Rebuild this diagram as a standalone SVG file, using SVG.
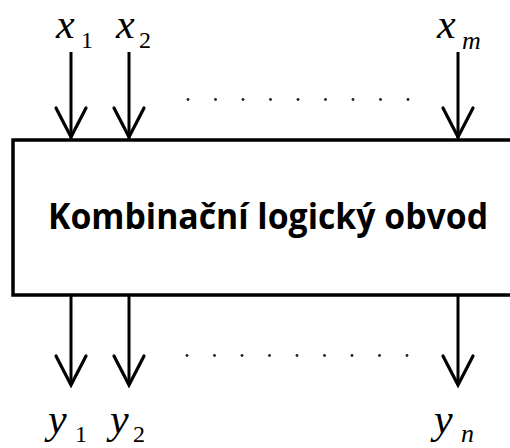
<svg xmlns="http://www.w3.org/2000/svg" width="510" height="448" viewBox="0 0 510 448">
  <defs>
    <style>
      .wire { fill: none; stroke: #000; stroke-width: 3; stroke-linecap: butt; }
      .head { fill: none; stroke: #000; stroke-width: 3.2; stroke-linejoin: miter; stroke-linecap: round; }
      .box { fill: #fff; stroke: #000; stroke-width: 3.5; }
      .title { font-family: "Open Sans", "Liberation Sans", sans-serif; font-weight: bold; font-size: 35px; fill: #000; }
      .dot { fill: #222; }
      .lbl { font-family: "Liberation Serif", "Times New Roman", Times, Tinos, "DejaVu Serif", "Noto Serif", serif; fill: #000; }
      .v { font-style: italic; font-size: 42px; }
      .n { font-size: 24px; }
      .i { font-style: italic; font-size: 26px; }
    </style>
  </defs>

  <!-- main block -->
  <g id="block">
    <rect class="box" x="13" y="140" width="510" height="155"/>
    <text class="title" x="268" y="229" text-anchor="middle" textLength="440" lengthAdjust="spacingAndGlyphs">Kombinační logický obvod</text>
  </g>

  <!-- input and output lines -->
  <g id="connectors">
    <line class="wire" x1="71" y1="52" x2="71" y2="138"/>
    <polyline class="head" points="56,108 71,137 86,108"/>
    <line class="wire" x1="129" y1="52" x2="129" y2="138"/>
    <polyline class="head" points="114,108 129,137 144,108"/>
    <line class="wire" x1="458" y1="52" x2="458" y2="138"/>
    <polyline class="head" points="443,108 458,137 473,108"/>

    <line class="wire" x1="71" y1="296" x2="71" y2="384"/>
    <polyline class="head" points="56,356 71,385 86,356"/>
    <line class="wire" x1="129" y1="296" x2="129" y2="384"/>
    <polyline class="head" points="114,356 129,385 144,356"/>
    <line class="wire" x1="458" y1="296" x2="458" y2="384"/>
    <polyline class="head" points="443,356 458,385 473,356"/>
  </g>

  <!-- ellipsis rows -->
  <g id="dots-in">
    <circle class="dot" cx="188" cy="99.5" r="1.4"/>
    <circle class="dot" cx="215.5" cy="99.5" r="1.4"/>
    <circle class="dot" cx="243" cy="99.5" r="1.4"/>
    <circle class="dot" cx="270.5" cy="99.5" r="1.4"/>
    <circle class="dot" cx="298" cy="99.5" r="1.4"/>
    <circle class="dot" cx="325.5" cy="99.5" r="1.4"/>
    <circle class="dot" cx="353" cy="99.5" r="1.4"/>
    <circle class="dot" cx="380.5" cy="99.5" r="1.4"/>
    <circle class="dot" cx="408" cy="99.5" r="1.4"/>
  </g>
  <g id="dots-out">
    <circle class="dot" cx="187" cy="355.5" r="1.4"/>
    <circle class="dot" cx="214.5" cy="355.5" r="1.4"/>
    <circle class="dot" cx="242" cy="355.5" r="1.4"/>
    <circle class="dot" cx="269.5" cy="355.5" r="1.4"/>
    <circle class="dot" cx="297" cy="355.5" r="1.4"/>
    <circle class="dot" cx="324.5" cy="355.5" r="1.4"/>
    <circle class="dot" cx="352" cy="355.5" r="1.4"/>
    <circle class="dot" cx="379.5" cy="355.5" r="1.4"/>
    <circle class="dot" cx="407" cy="355.5" r="1.4"/>
  </g>

  <!-- input labels -->
  <g id="label-x1" class="lbl"><text class="v" x="56" y="38">x</text><text class="n" x="81" y="48">1</text></g>
  <g id="label-x2" class="lbl"><text class="v" x="116" y="38">x</text><text class="n" x="139" y="48">2</text></g>
  <g id="label-xm" class="lbl"><text class="v" x="437" y="38">x</text><text class="i" x="462" y="49">m</text></g>

  <!-- output labels -->
  <g id="label-y1" class="lbl"><text class="v" x="48" y="433">y</text><text class="n" x="75" y="442">1</text></g>
  <g id="label-y2" class="lbl"><text class="v" x="110" y="433">y</text><text class="n" x="133" y="442">2</text></g>
  <g id="label-yn" class="lbl"><text class="v" x="434" y="433">y</text><text class="i" x="461" y="442">n</text></g>
</svg>
